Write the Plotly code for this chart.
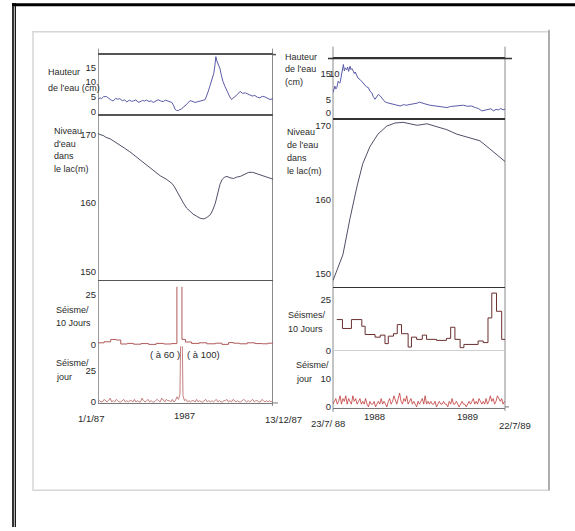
import plotly.graph_objects as go
import pandas as pd

W, H = 575, 531
def fx(x): return x / W
def fy(y): return 1 - y / H

# ---------------- DATA ----------------
start87 = "1987-01-01"
end87 = "1987-12-13"
start88 = "1988-07-23"
end89 = "1989-07-22"

# Left panel (1987)
hauteur87_jour = [0,4,7,11,17,22,26,30,35,39,43,48,52,57,62,66,70,75,79,83,88,92,96,101,105,109,114,119,124,129,
                  133,136,141,146,150,152,155,159,162,165,169,172,176,179,182,185,188,192,198,205,209,212,215,218,221,
                  225,227,229,231,233,235,237,239,241,243,244,247,251,255,258,261,264,268,271,276,281,286,291,296,300,
                  305,310,315,320,325,330,335,340,346]
hauteur87_cm = [4.0,4.6,4.3,5.0,5.0,4.2,3.8,3.5,4.4,4.1,4.3,3.6,3.9,3.2,3.8,3.4,3.5,3.9,3.1,3.2,3.7,3.5,3.8,3.3,3.6,3.0,3.4,3.9,3.5,3.3,
                3.8,3.6,3.4,3.0,1.8,0.7,0.3,0.2,0.6,0.7,1.5,1.8,2.6,3.0,3.6,3.5,3.2,3.0,3.3,3.5,3.8,4.0,5.2,6.8,8.5,
                10.8,11.5,13.0,15.5,18.7,17.2,16.4,15.2,14.7,13.0,11.9,10.2,8.5,6.8,5.7,4.8,4.0,4.5,4.9,5.8,6.8,6.1,6.3,5.9,5.7,
                5.2,5.4,4.8,4.6,5.1,4.9,4.3,4.0,4.3]

niveau87_jour = [0,4,10,16,24,33,43,53,63,73,83,93,103,113,123,135,146,151,156,162,169,175,182,188,195,202,209,215,
                 222,227,232,235,238,241,245,250,255,261,268,274,281,290,298,306,314,322,330,338,346]
niveau87_m = [170.2,170.0,169.9,169.6,169.4,169.0,168.5,168.0,167.5,166.9,166.3,165.7,165.1,164.6,164.0,163.5,162.9,162.4,
              161.7,160.9,160.0,159.3,158.8,158.4,158.1,157.8,157.7,157.9,158.3,159.0,160.0,161.0,161.9,162.7,163.4,163.8,
              163.9,163.7,163.6,163.8,163.9,164.2,164.5,164.5,164.3,164.2,164.0,163.8,163.5]

seisme10_87_jour = [0,12,25,36,45,58,70,85,100,115,130,145,156,166,173,185,200,215,232,245,258,268,280,295,310,325,336,346]
seisme10_87 = [0.8,1.3,2.5,2.2,0.2,0.5,0.1,0.4,0.0,0.5,0.2,0.4,60,2.5,1.2,0.5,0.8,0.3,0.6,0.0,0.9,0.6,0.3,0.8,0.4,0.3,0.6,0.6]

seismejour87 = [0,1,0,0,2,1,0,1,3,0,1,0,2,1,0,0,1,2,0,1,
                0,1,1,0,2,0,1,0,0,3,1,0,1,2,0,1,0,0,1,2,
                1,0,3,1,0,2,1,1,0,2,0,1,4,2,
                6,100,5,
                1,2,0,1,0,1,1,0,2,0,1,0,0,1,2,0,1,0,1,
                0,1,2,0,1,0,0,1,1,2,0,1,0,2,1,0,1,0,0,1,
                2,1,0,1,0,1,2,0,1,1,0,0,2,1,0,1,0,1,0,1]
seismejour87_pas = 3  # one value every 3 days

# Right panel (1988-1989)
hauteur88_jour = [0,2,4,6,8,11,13,15,17,18,20,22,24,26,29,31,33,36,38,40,43,45,47,50,53,57,60,64,67,71,75,78,82,85,89,
                  92,96,99,103,107,110,114,121,128,135,142,149,156,163,170,178,183,188,195,205,214,223,232,241,249,258,
                  267,276,284,293,301,308,315,322,329,334,340,345,350,355,360,364]
hauteur88_cm = [7.6,8.5,10.1,9.0,9.5,12.0,11.4,11.4,14.0,15.3,17.5,18.5,16.0,17.2,16.5,17.5,15.8,17.8,16.5,16.9,15.9,15.0,
                15.6,14.0,13.2,12.7,12.0,11.4,10.4,9.8,9.5,8.2,7.6,6.1,5.0,6.0,6.9,6.5,5.6,4.5,4.0,3.7,3.3,3.1,2.6,2.4,
                2.9,2.7,3.0,3.1,3.5,3.9,3.7,3.2,2.7,2.5,2.2,2.0,1.8,2.2,2.4,2.7,2.7,2.3,2.4,1.8,1.4,0.5,0.7,0.9,1.3,
                0.5,1.1,0.9,1.4,0.9,1.2]

niveau88_jour = [0,21,36,51,63,78,95,114,131,148,163,178,199,220,241,262,290,311,332,349,364]
niveau88_m = [149.1,152.6,157.5,161.9,164.9,167.2,168.9,170.0,170.4,170.5,170.3,170.1,170.3,169.9,169.5,168.9,168.4,
              168.0,166.9,166.0,165.2]

seisme10_88_jour = [8,20,39,61,68,89,100,110,117,128,136,145,159,166,177,189,198,219,240,249,258,269,277,307,318,328,336,
                    346,357,364]
seisme10_88 = [15.2,10.8,15.2,11.9,7.8,6.5,7.5,3.3,7.0,8.2,12.7,8.2,1.6,6.5,5.4,7.5,5.4,4.9,5.9,11.4,5.4,1.3,2.9,4.6,3.8,
               16.0,28.3,19.3,5.4,5.4]

seismejour88 = [1,2,3,1,2,4,1,3,2,4,1,3,2,1,4,2,3,1,2,3,
                1,2,1,3,1,0,2,1,1,2,0,1,2,1,3,1,2,1,0,2,
                3,1,2,4,2,1,3,5,2,1,3,2,4,1,2,3,1,2,1,0,
                2,1,2,3,1,4,1,2,1,2,1,1,2,0,1,2,1,1,2,1,
                1,0,2,1,3,1,1,2,1,0,1,2,1,1,0,1,2,1,2,3,
                1,2,1,3,2,1,2,1,3,1,2,4,2,3,1,2,4,3,2,3,1,2]
seismejour88_pas = 3

# Tick labels
ticks_hauteur_g = [0, 5, 10, 15]
ticks_niveau = [150, 160, 170]
ticks_s10 = [0, 25]
ticks_sjour_g = [0, 25]
ticks_hauteur_d = [0, 5, 15]
ticks_sjour_d = [0, 10]
xlab_gauche = ["1/1/87", "1987", "13/12/87"]
xlab_droite = ["23/7/ 88", "1988", "1989", "22/7/89"]

lab_hauteur_g = ["Hauteur", "de l'eau (cm)"]
lab_niveau_g = ["Niveau", "d'eau", "dans", "le lac(m)"]
lab_s10_g = ["Séisme/", "10 Jours"]
lab_sjour_g = ["Séisme/", "jour"]
lab_hauteur_d = ["Hauteur", "de l'eau", "(cm)"]
lab_niveau_d = ["Niveau", "de l'eau", "dans", "le lac(m)"]
lab_s10_d = ["Séismes/", "10 Jours"]
lab_sjour_d = ["Séisme/", "jour"]
notes = ["( à 60 )", "( à 100)"]

# ---------------- FIGURE ----------------
def d(start, days):
    s = pd.Timestamp(start)
    return [s + pd.Timedelta(days=int(v)) for v in days]

FONT = "Liberation Sans, Arial, sans-serif"
FS = 9.5
FL = 9
TXT = "#2a2a2a"
fig = go.Figure()

fig.add_trace(go.Scatter(x=d(start87, hauteur87_jour), y=hauteur87_cm, mode="lines",
                         line=dict(color="#5a5aa8", width=1), xaxis="x", yaxis="y"))
fig.add_trace(go.Scatter(x=d(start87, niveau87_jour), y=niveau87_m, mode="lines",
                         line=dict(color="#505068", width=1), xaxis="x2", yaxis="y2"))
fig.add_trace(go.Scatter(x=d(start87, seisme10_87_jour), y=seisme10_87, mode="lines", line_shape="hv",
                         line=dict(color="#b05a5a", width=1), xaxis="x3", yaxis="y3"))
fig.add_trace(go.Scatter(x=d(start87, [i * seismejour87_pas for i in range(len(seismejour87))]), y=seismejour87,
                         mode="lines", line=dict(color="#c07070", width=0.9), xaxis="x4", yaxis="y4"))

fig.add_trace(go.Scatter(x=d(start88, hauteur88_jour), y=hauteur88_cm, mode="lines",
                         line=dict(color="#5a5aa8", width=1), xaxis="x5", yaxis="y5"))
fig.add_trace(go.Scatter(x=d(start88, niveau88_jour), y=niveau88_m, mode="lines",
                         line=dict(color="#505068", width=1), xaxis="x6", yaxis="y6"))
fig.add_trace(go.Scatter(x=d(start88, seisme10_88_jour), y=seisme10_88, mode="lines", line_shape="hv",
                         line=dict(color="#6a2f2f", width=1), xaxis="x7", yaxis="y7"))
fig.add_trace(go.Scatter(x=d(start88, [i * seismejour88_pas for i in range(len(seismejour88))]), y=seismejour88,
                         mode="lines", line=dict(color="#c03838", width=0.8), xaxis="x8", yaxis="y8"))

LX = [fx(98), fx(273)]
RX = [fx(333), fx(505)]
def xax(dom, rng, anchor, showline=False, mirror=False, color="#555", width=1.5):
    return dict(domain=dom, range=rng, anchor=anchor, showticklabels=False, showgrid=False,
                zeroline=False, showline=showline, mirror=mirror, linecolor=color, linewidth=width,
                ticks="", fixedrange=True)
def yax(top, bot, rng, anchor, tv, zeroline=False):
    return dict(domain=[fy(bot), fy(top)], range=rng, anchor=anchor, tickvals=tv,
                ticktext=[str(t) for t in tv], showgrid=False, zeroline=zeroline, zerolinecolor="#cfcfcf",
                zerolinewidth=1, showline=False, ticks="", ticklabelstandoff=1,
                tickfont=dict(family=FONT, size=FS, color=TXT), fixedrange=True)

rl = [start87, end87]
rr = [start88, end89]
fig.update_layout(
    xaxis=xax(LX, rl, "y", True, True),
    xaxis2=xax(LX, rl, "y2", True, False),
    xaxis3=xax(LX, rl, "y3"),
    xaxis4=xax(LX, rl, "y4", True, False, "#777", 1),
    xaxis5=xax(RX, rr, "y5", True, True, "#333", 1.5),
    xaxis6=xax(RX, rr, "y6", True, False, "#333", 1.5),
    xaxis7=xax(RX, rr, "y7"),
    xaxis8=xax(RX, rr, "y8", True, False, "#777", 1),
    yaxis=yax(55, 115, [-1.0, 19.4], "x", ticks_hauteur_g),
    yaxis2=yax(115, 282, [148.8, 173.0], "x2", ticks_niveau),
    yaxis3=yax(289, 357, [-5, 29], "x3", ticks_s10),
    yaxis4=yax(349, 406, [-0.8, 43.8], "x4", ticks_sjour_g),
    yaxis5=yax(59, 119, [-2.3, 20.8], "x5", ticks_hauteur_d),
    yaxis6=yax(119, 289, [148.25, 171.07], "x6", ticks_niveau),
    yaxis7=yax(289, 356, [-1.5, 31.4], "x7", ticks_s10, zeroline=True),
    yaxis8=yax(356, 411, [-0.36, 19.3], "x8", ticks_sjour_d),
)

shapes = []
def pline(x0, y0, x1, y1, color, width):
    shapes.append(dict(type="line", xref="paper", yref="paper", x0=fx(x0), y0=fy(y0), x1=fx(x1), y1=fy(y1),
                       line=dict(color=color, width=width), layer="below"))
# outer page frame
pline(12, 4.7, 575, 4.7, "#000", 3)
pline(13, 3, 13, 531, "#000", 1.6)
pline(15.3, 3, 15.3, 531, "#000", 1.2)
# grey figure box
shapes.append(dict(type="rect", xref="paper", yref="paper", x0=fx(33), y0=fy(494), x1=fx(549), y1=fy(32),
                   line=dict(color="#d6d6d6", width=1.5), layer="below"))
pline(549, 30, 549, 494, "#8a8a8a", 1.2)
# panel vertical frame lines
pline(98.5, 49, 98.5, 407, "#9a9a9a", 1)
pline(272.5, 49, 272.5, 409, "#8a8a8a", 1)
pline(333, 47, 333, 415, "#8a8a8a", 1)
pline(505, 47, 505, 414, "#8a8a8a", 1)
# axis extensions
pline(273, 55, 276, 55, "#555", 1.5)
pline(273, 406, 278, 406, "#777", 1)
pline(328, 59, 512, 59, "#333", 1.5)
pline(505, 410, 509, 410, "#777", 1)
fig.update_layout(shapes=shapes)

ann = []
def txt(s, x, y, anchor="left", size=FL):
    ann.append(dict(text=s, x=fx(x), y=fy(y), xref="paper", yref="paper", showarrow=False,
                    xanchor=anchor, yanchor="middle", font=dict(family=FONT, size=size, color=TXT)))
for i, s in enumerate(lab_hauteur_g):
    txt(s, 46, 73 + 16 * i)
for i, s in enumerate(lab_niveau_g):
    txt(s, 52, 132 + 12.7 * i)
for i, s in enumerate(lab_s10_g):
    txt(s, 54, 312 + 13 * i)
for i, s in enumerate(lab_sjour_g):
    txt(s, 54, 366 + 14 * i)
for i, s in enumerate(lab_hauteur_d):
    txt(s, 283, 57 + 13 * i)
for i, s in enumerate(lab_niveau_d):
    txt(s, 285, 133 + 13 * i)
for i, s in enumerate(lab_s10_d):
    txt(s, 286, 317 + 15 * i)
for i, s in enumerate(lab_sjour_d):
    txt(s, 294, 368 + 14 * i)
txt("10", 334, 74, "center", FS)
txt(notes[0], 165, 357, "center", FS)
txt(notes[1], 204, 357, "center", FS)
for s, x, y in zip(xlab_gauche, [91, 185, 283], [422, 419, 423]):
    txt(s, x, y, "center", FS)
for s, x, y in zip(xlab_droite, [328, 374, 467, 515], [427, 420, 420, 429]):
    txt(s, x, y, "center", FS)
fig.update_layout(annotations=ann)

fig.update_layout(width=W, height=H, margin=dict(l=0, r=0, t=0, b=0), paper_bgcolor="white",
                  plot_bgcolor="rgba(0,0,0,0)", showlegend=False)
fig.write_html("out.html", config={"displayModeBar": False, "staticPlot": True},
               post_script="document.body.style.margin='0';document.body.style.overflow='hidden';")
